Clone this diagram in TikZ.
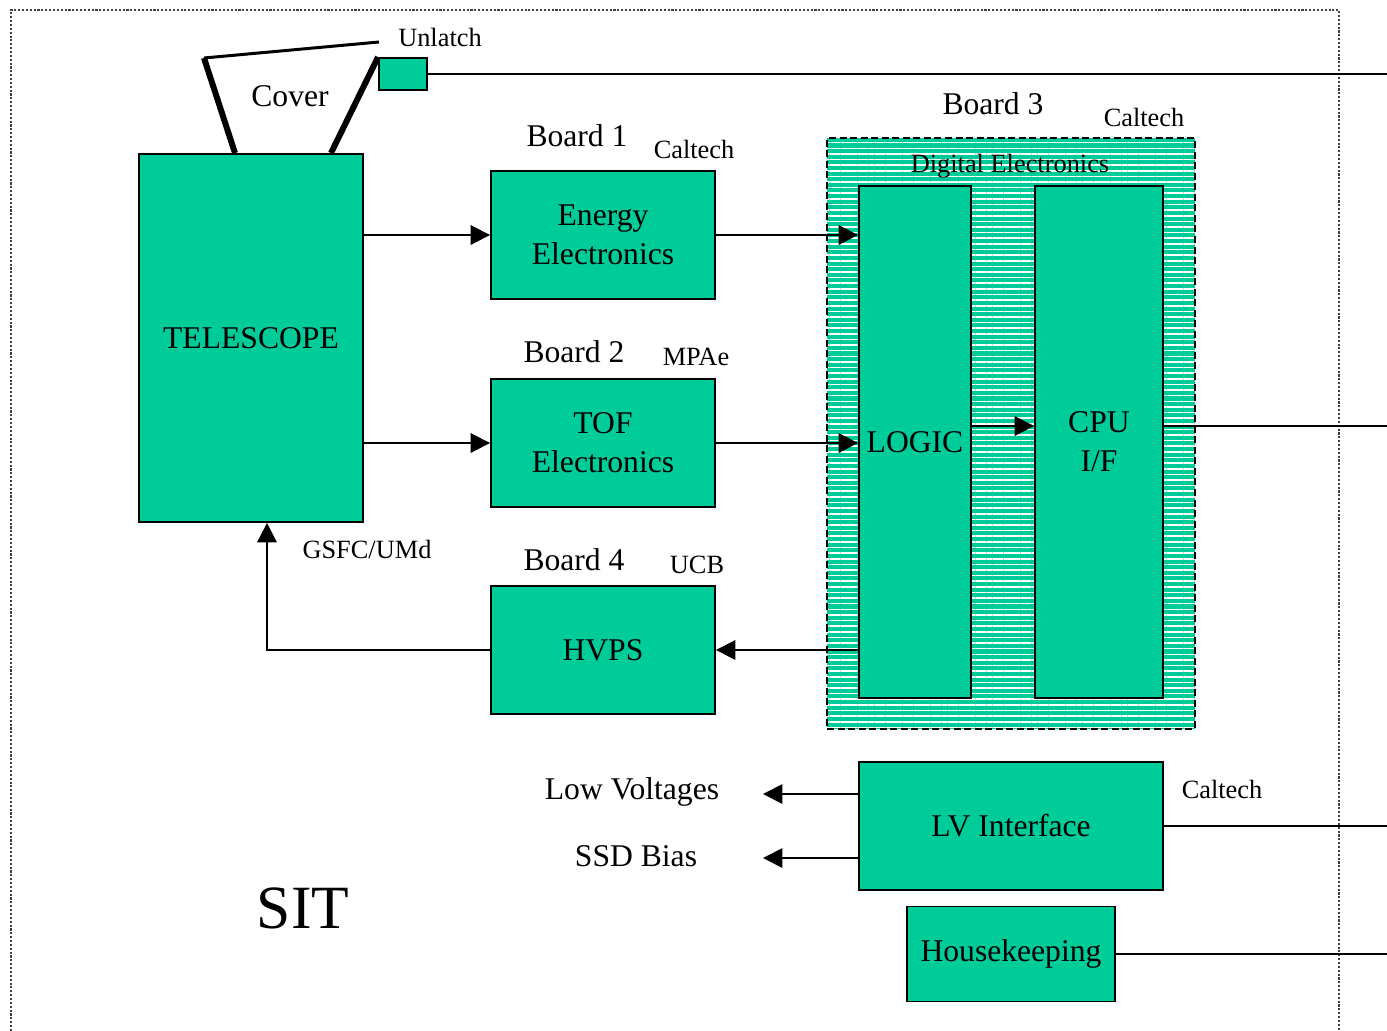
\documentclass[tikz,border=0pt]{standalone}
\usepackage{fontspec}
\setmainfont{Liberation Serif}
\usetikzlibrary{arrows.meta,positioning,patterns.meta}
\definecolor{boxgreen}{RGB}{0,204,153}

\begin{document}
\begin{tikzpicture}[x=0.02cm, y=-0.02cm,
  every node/.style={font=\fontsize{18}{22}\selectfont},
  box/.style={draw, line width=1.1pt, fill=boxgreen, align=center, inner sep=0pt},
  small/.style={font=\fontsize{15}{18}\selectfont},
  arr/.style={-{Triangle[length=11pt,width=11pt]}, line width=1.1pt},
  wire/.style={line width=1.1pt}]
  \useasboundingbox (0,0) rectangle (1387,1031);
  \draw[densely dotted, line width=1.2pt, black!75] (11,1031) -- (11,10) -- (1339,10) -- (1339,1031);

  % blocks
  \node[box, minimum width=4.48cm, minimum height=7.36cm] (tele) at (251,338) {TELESCOPE};
  \node[box, minimum width=0.96cm, minimum height=0.64cm] (unlatch) at (403,74) {};
  \node[box, minimum width=4.48cm, minimum height=2.56cm] (energy) at (603,235) {Energy\\Electronics};
  \node[box, minimum width=4.48cm, minimum height=2.56cm] (tof) at (603,443) {TOF\\Electronics};
  \node[box, minimum width=4.48cm, minimum height=2.56cm] (hvps) at (603,650) {HVPS};
  \node[draw, line width=1.2pt, dash pattern=on 4pt off 2pt, preaction={fill=boxgreen},
        pattern={Lines[angle=0,distance=3.2pt,line width=0.9pt]}, pattern color=white,
        minimum width=7.36cm, minimum height=11.82cm, inner sep=0pt] (digital) at (1011,433.5) {};
  \node[small] (digtxt) at (1010,166) {Digital Electronics};
  \node[box, minimum width=2.24cm, minimum height=10.24cm] (logic) at (915,442) {LOGIC};
  \node[box, minimum width=2.56cm, minimum height=10.24cm] (cpu) at (1099,442) {CPU\\I/F};
  \node[box, minimum width=6.08cm, minimum height=2.56cm] (lv) at (1011,826) {LV Interface};
  \node[box, minimum width=4.16cm, minimum height=1.9cm] (hk) at (1011,954) {Housekeeping};

  % labels
  \node (cover) at (290,96) {Cover};
  \node[small] (unlatchtxt) at (440,37) {Unlatch};
  \node (b1) at (577,136) {Board 1};
  \node[small] (b1org) at (694,149) {Caltech};
  \node (b2) at (574,352) {Board 2};
  \node[small] (b2org) at (696,357) {MPAe};
  \node (b4) at (574,560) {Board 4};
  \node[small] (b4org) at (697,565) {UCB};
  \node (b3) at (993,104) {Board 3};
  \node[small] (b3org) at (1144,117) {Caltech};
  \node[small] (teleorg) at (367,549) {GSFC/UMd};
  \node[small] (lvorg) at (1222,789) {Caltech};
  \node (lowv) at (632,792) {Low Voltages};
  \node (ssd) at (636,856) {SSD Bias};
  \node[font=\fontsize{35}{40}\selectfont] (sit) at (303,908) {SIT};

  \coordinate (lowvend) at (763,794);
  \coordinate (ssdend) at (763,858);
  \coordinate (unlatchout) at (1387,74);
  \coordinate (cpuout) at (1387,426);
  \coordinate (lvout) at (1387,826);
  \coordinate (hkout) at (1387,954);
  \coordinate (coverhinge) at (204,58);
  \coordinate (coverend) at (379,42);

  % cover
  \draw[line width=3.4pt] ([xshift=-0.32cm]tele.north) -- (coverhinge);
  \draw[line width=1.7pt] (coverhinge) -- (coverend);
  \draw[line width=3.4pt] ([xshift=1.6cm]tele.north) -- (unlatch.north west);

  % connectors
  \draw[arr] (tele.east |- energy.west) -- (energy.west);
  \draw[arr] (tele.east |- tof.west) -- (tof.west);
  \draw[arr] (energy.east) -- (logic.west |- energy.east);
  \draw[arr] (tof.east) -- (logic.west |- tof.east);
  \draw[arr] ([yshift=0.32cm]logic.east) -- ([yshift=0.32cm]cpu.west);
  \draw[wire] ([yshift=0.32cm]cpu.east) -- (cpuout);
  \draw[arr] (logic.west |- hvps.east) -- (hvps.east);
  \draw[arr] (hvps.west) -| ([xshift=0.32cm]tele.south);
  \draw[wire] (unlatch.east) -- (unlatchout);
  \draw[arr] ([yshift=0.64cm]lv.west) -- (lowvend);
  \draw[arr] ([yshift=-0.64cm]lv.west) -- (ssdend);
  \draw[wire] (lv.east) -- (lvout);
  \draw[wire] (hk.east) -- (hkout);
\end{tikzpicture}
\end{document}
